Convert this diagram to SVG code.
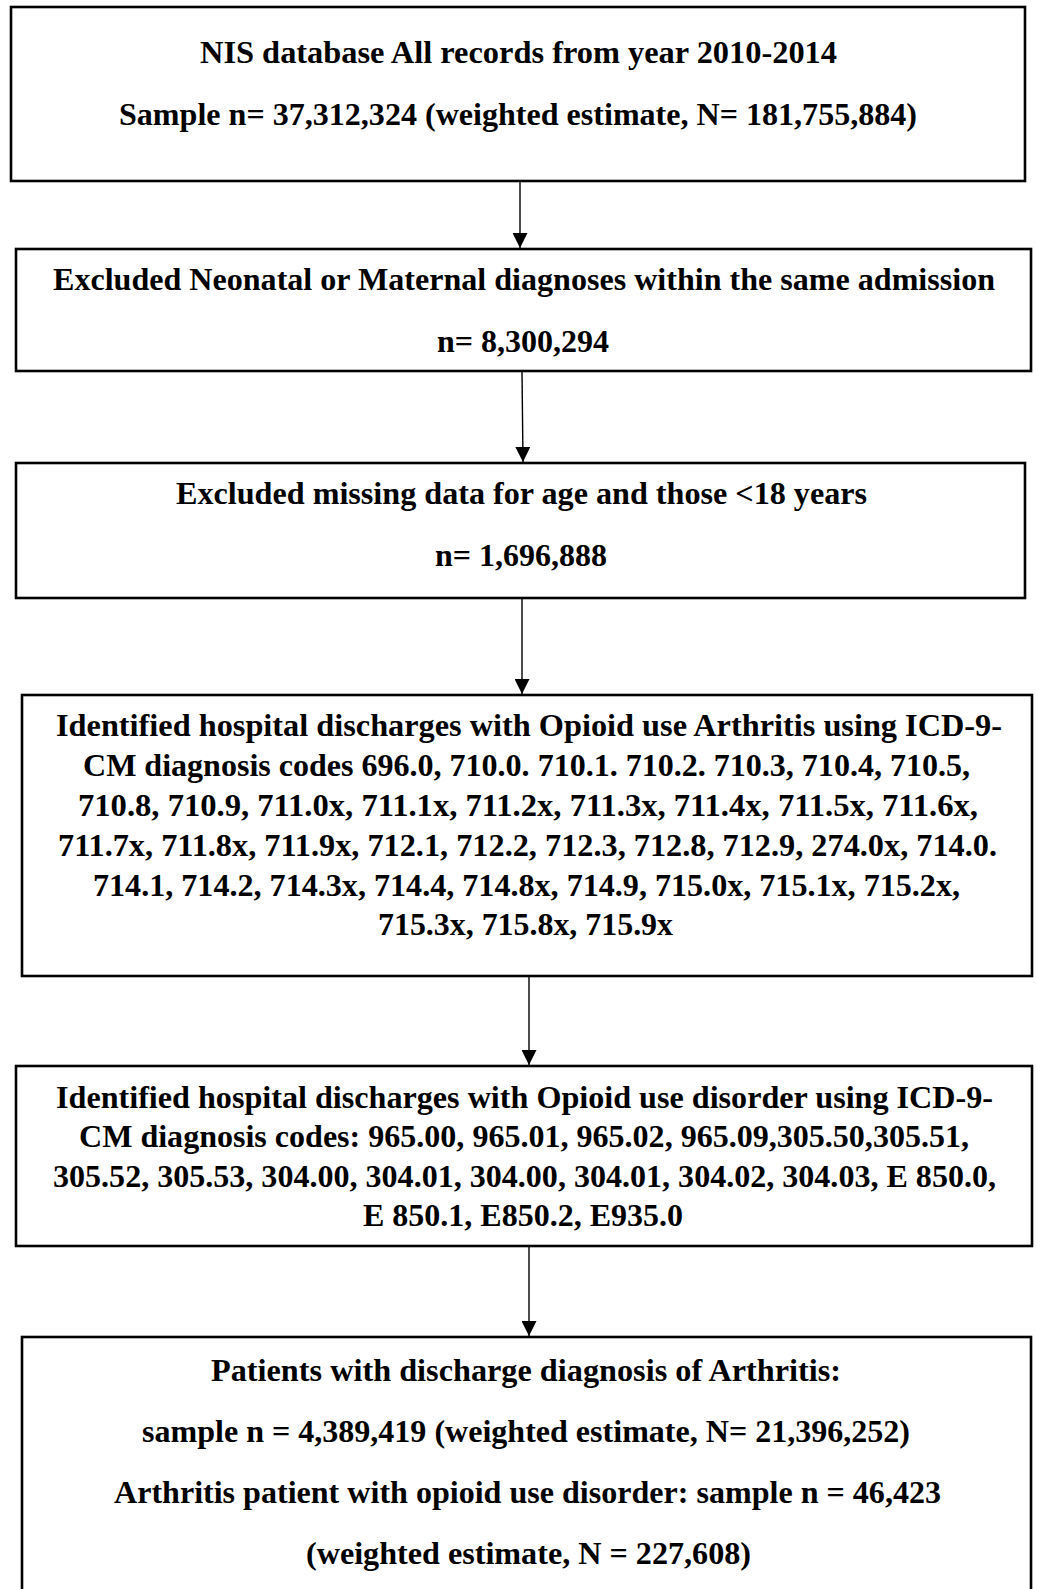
<svg xmlns="http://www.w3.org/2000/svg" width="1037" height="1589" viewBox="0 0 1037 1589">
<style>
.box{fill:#fff;stroke:#000;stroke-width:2.6}
.t{font-family:"Liberation Serif","Times New Roman",serif;font-weight:bold;font-size:32px;fill:#000;text-anchor:middle}
.c{stroke:#000;stroke-width:1.4;fill:none}
</style>
<defs>
<marker id="ah" markerWidth="15" markerHeight="15" refX="15" refY="7.5" orient="auto" markerUnits="userSpaceOnUse">
<path d="M0,0 L15,7.5 L0,15 Z" fill="#000"/>
</marker>
</defs>
<rect width="1037" height="1589" fill="#fff"/>
<g id="connectors">
<line class="c" x1="520" y1="182" x2="520" y2="248" marker-end="url(#ah)"/>
<line class="c" x1="522" y1="372" x2="523" y2="462" marker-end="url(#ah)"/>
<line class="c" x1="522" y1="599" x2="522" y2="694" marker-end="url(#ah)"/>
<line class="c" x1="529" y1="977" x2="529" y2="1065" marker-end="url(#ah)"/>
<line class="c" x1="529" y1="1246" x2="529" y2="1336" marker-end="url(#ah)"/>
</g>
<g id="n1">
<rect class="box" x="11" y="7" width="1014" height="174"/>
<text class="t" x="518.5" y="62.5" textLength="637" lengthAdjust="spacingAndGlyphs">NIS database All records from year 2010-2014</text>
<text class="t" x="518" y="124.5" textLength="798" lengthAdjust="spacingAndGlyphs">Sample n= 37,312,324 (weighted estimate, N= 181,755,884)</text>
</g>
<g id="n2">
<rect class="box" x="16" y="249" width="1015" height="122"/>
<text class="t" x="524" y="289.5" textLength="942" lengthAdjust="spacingAndGlyphs">Excluded Neonatal or Maternal diagnoses within the same admission</text>
<text class="t" x="523" y="351.5" textLength="172" lengthAdjust="spacingAndGlyphs">n= 8,300,294</text>
</g>
<g id="n3">
<rect class="box" x="16" y="463" width="1009" height="135"/>
<text class="t" x="521.5" y="503.5" textLength="691" lengthAdjust="spacingAndGlyphs">Excluded missing data for age and those &lt;18 years</text>
<text class="t" x="521" y="565.5" textLength="172" lengthAdjust="spacingAndGlyphs">n= 1,696,888</text>
</g>
<g id="n4">
<rect class="box" x="22" y="695" width="1010" height="281"/>
<text class="t" x="529" y="735.5" textLength="946" lengthAdjust="spacingAndGlyphs">Identified hospital discharges with Opioid use Arthritis using ICD-9-</text>
<text class="t" x="526.5" y="775.5" textLength="887" lengthAdjust="spacingAndGlyphs">CM diagnosis codes 696.0, 710.0. 710.1. 710.2. 710.3, 710.4, 710.5,</text>
<text class="t" x="528" y="816" textLength="900" lengthAdjust="spacingAndGlyphs">710.8, 710.9, 711.0x, 711.1x, 711.2x, 711.3x, 711.4x, 711.5x, 711.6x,</text>
<text class="t" x="527.5" y="855.5" textLength="939" lengthAdjust="spacingAndGlyphs">711.7x, 711.8x, 711.9x, 712.1, 712.2, 712.3, 712.8, 712.9, 274.0x, 714.0.</text>
<text class="t" x="526.5" y="895.5" textLength="867" lengthAdjust="spacingAndGlyphs">714.1, 714.2, 714.3x, 714.4, 714.8x, 714.9, 715.0x, 715.1x, 715.2x,</text>
<text class="t" x="525.5" y="935" textLength="295" lengthAdjust="spacingAndGlyphs">715.3x, 715.8x, 715.9x</text>
</g>
<g id="n5">
<rect class="box" x="16" y="1066" width="1016" height="180"/>
<text class="t" x="524.5" y="1107.5" textLength="937" lengthAdjust="spacingAndGlyphs">Identified hospital discharges with Opioid use disorder using ICD-9-</text>
<text class="t" x="524" y="1146.5" textLength="890" lengthAdjust="spacingAndGlyphs">CM diagnosis codes: 965.00, 965.01, 965.02, 965.09,305.50,305.51,</text>
<text class="t" x="524.5" y="1187" textLength="943" lengthAdjust="spacingAndGlyphs">305.52, 305.53, 304.00, 304.01, 304.00, 304.01, 304.02, 304.03, E 850.0,</text>
<text class="t" x="523" y="1226" textLength="320" lengthAdjust="spacingAndGlyphs">E 850.1, E850.2, E935.0</text>
</g>
<g id="n6">
<rect class="box" x="22" y="1337" width="1009" height="270"/>
<text class="t" x="526" y="1380.5" textLength="630" lengthAdjust="spacingAndGlyphs">Patients with discharge diagnosis of Arthritis:</text>
<text class="t" x="526" y="1441.5" textLength="768" lengthAdjust="spacingAndGlyphs">sample n = 4,389,419 (weighted estimate, N= 21,396,252)</text>
<text class="t" x="527.5" y="1502.5" textLength="827" lengthAdjust="spacingAndGlyphs">Arthritis patient with opioid use disorder: sample n = 46,423</text>
<text class="t" x="528.5" y="1563.5" textLength="445" lengthAdjust="spacingAndGlyphs">(weighted estimate, N = 227,608)</text>
</g>
</svg>
